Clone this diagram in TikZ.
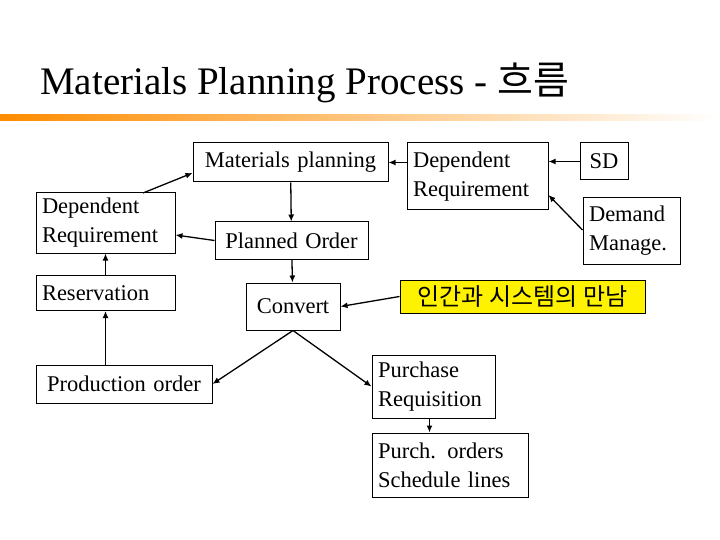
\documentclass[tikz,border=0pt]{standalone}
\usepackage{fontspec}
\setmainfont{Liberation Serif}
\newfontfamily\kr{Noto Sans CJK KR}
\usetikzlibrary{arrows.meta}
\begin{document}
\begin{tikzpicture}[x=1pt,y=-1pt,
  box/.style={draw,line width=1pt,font=\fontsize{22.5}{29}\selectfont,align=left,inner xsep=6pt,inner ysep=0pt},
  arr/.style={-{Latex[length=7pt,width=6pt]},line width=1.3pt}]
\useasboundingbox (0,0) rectangle (720,540);
\fill[white] (0,0) rectangle (720,540);
\node[anchor=base west,font=\fontsize{39}{44}\selectfont,inner sep=0pt] (title) at (40,95) {Materials Planning Process - {\kr 흐름}};
\shade[left color=orange!90!yellow,right color=white] (0,115) rectangle (720,121);
\node[box,text width=183,minimum height=39,align=center] (mp) at (290.5,162.5) {Materials planning};
\node[box,text width=129,minimum height=67] (drr) at (477.5,176.5) {Dependent\\Requirement};
\node[box,text width=36,minimum height=37,align=center] (sd) at (604,161.5) {SD};
\node[box,text width=85,minimum height=66] (dm) at (631.5,231) {Demand\\Manage.};
\node[box,text width=127,minimum height=60] (drl) at (105.5,223) {Dependent\\Requirement};
\node[box,text width=141,minimum height=37,align=center] (po) at (291.5,240.5) {Planned Order};
\node[box,text width=127,minimum height=35] (res) at (105.5,293) {Reservation};
\node[box,text width=82,minimum height=47,align=center] (conv) at (293,306.5) {Convert};
\node[box,fill=yellow,minimum width=245,minimum height=33,align=center,font=\kr\fontsize{24}{26}\selectfont] (kor) at (522.5,296.5) {인간과 시스템의 만남};
\node[box,text width=164,minimum height=38,align=center] (prod) at (124,384) {Production order};
\node[box,text width=111,minimum height=63] (pr) at (433.5,386.5) {Purchase\\Requisition};
\node[box,text width=144,minimum height=64] (pur) at (450,465) {Purch. orders\\Schedule lines};
\coordinate (a1) at (143,193);
\draw[arr] (a1) -- (mp.west |- 0,173);
\draw[arr] (drr.west |- mp) -- (mp.east);
\draw[arr] (sd.west) -- (drr.east |- sd);
\draw[arr] (dm.west |- 0,230) -- (drr.east |- 0,195);
\draw[arr] (mp) -- (po);
\draw[arr] (po.west) -- (drl.east |- 0,235);
\draw[arr] (po) -- (conv);
\draw[arr] (res) -- (drl);
\draw[arr] (prod.north -| res) -- (res.south);
\draw[arr] (kor.west) -- (conv.east);
\draw[arr] (conv.south) -- (prod.east);
\draw[arr] (conv.south) -- (pr.west);
\draw[arr] (pr.south) ++(-4,0) -- (pur.north -| 429.5,0);
\end{tikzpicture}
\end{document}
